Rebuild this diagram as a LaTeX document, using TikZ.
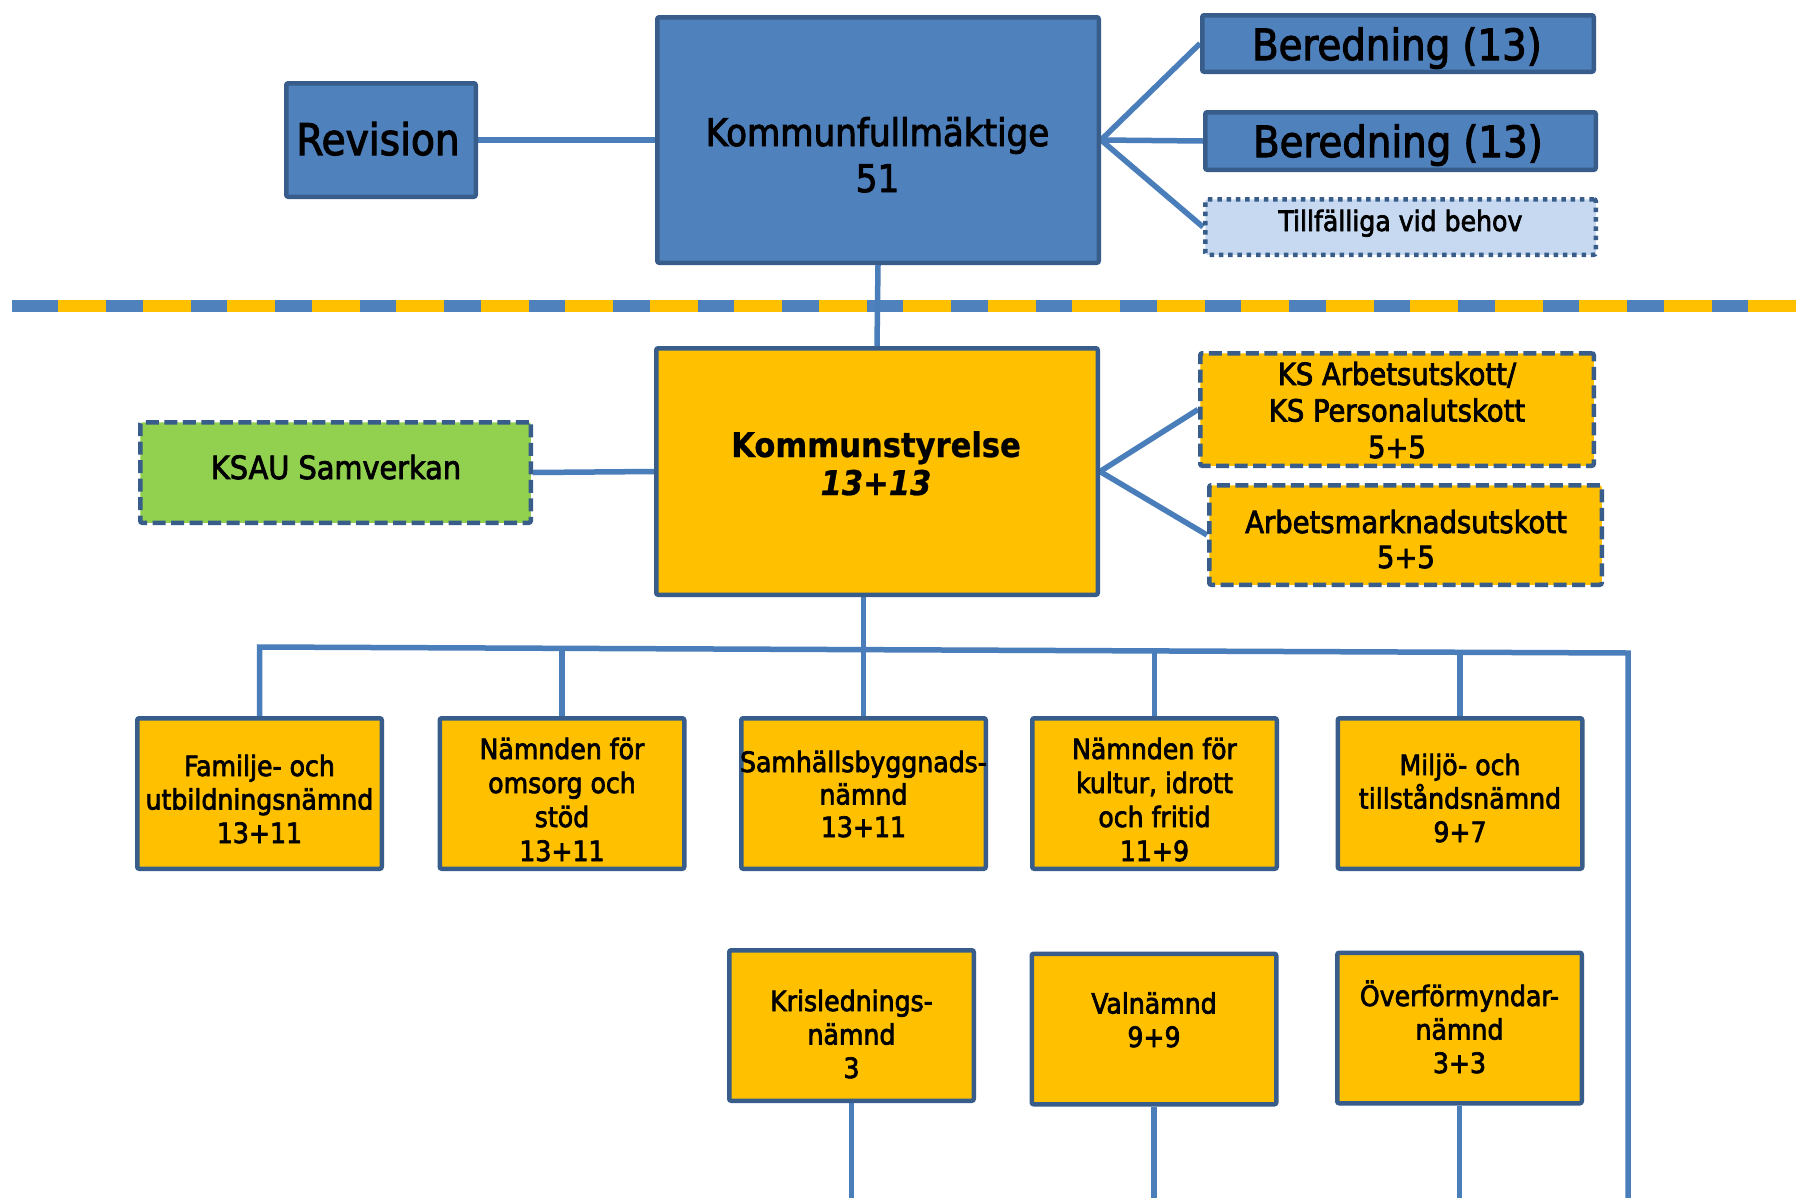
\documentclass[tikz,border=0pt]{standalone}
\usepackage{fontspec}
\setmainfont{DejaVuSansCondensed}[Extension=.ttf, FakeBold=2.5, BoldFont=*-Bold, BoldFeatures={FakeBold=0.8}, ItalicFont=*-Oblique, BoldItalicFont=*-BoldOblique, BoldItalicFeatures={FakeBold=0.8}]
\usetikzlibrary{backgrounds}
\definecolor{boxblue}{HTML}{4F81BD}
\definecolor{edgeblue}{HTML}{385D8A}
\definecolor{lineblue}{HTML}{4A7EBB}
\definecolor{gold}{HTML}{FFC000}
\definecolor{leaf}{HTML}{92D050}
\definecolor{pale}{HTML}{C6D9F1}
\tikzset{
  box/.style={rectangle, draw=edgeblue, line width=4.5pt, rounded corners=2pt, inner sep=0pt},
  bluebox/.style={box, fill=boxblue},
  goldbox/.style={box, fill=gold},
  dashbox/.style={dash pattern=on 13pt off 5.5pt},
  dotbox/.style={dash pattern=on 4.5pt off 4.8pt},
  smallbox/.style={goldbox, minimum width=244.5pt, minimum height=150.5pt},
  link/.style={draw=lineblue, line width=5.5pt},
  txt/.style={anchor=base, align=center, inner sep=0pt, text=black},
  fbig/.style={font=\fontsize{43}{46}\selectfont},
  fsmall/.style={font=\fontsize{28}{33.5}\selectfont},
  fmid/.style={font=\fontsize{30.5}{36.5}\selectfont},
}
\begin{document}
\begin{tikzpicture}[x=1pt,y=-1pt]
\useasboundingbox (0,0) rectangle (1796,1197);
% boxes
\node[bluebox, minimum width=189.5pt, minimum height=113.5pt] (rev) at (381,140) {};
\node[bluebox, minimum width=441.5pt, minimum height=245.5pt] (kf) at (878,140) {};
\node[bluebox, minimum width=391.5pt, minimum height=56.5pt] (b1) at (1398,43.5) {};
\node[bluebox, minimum width=390.5pt, minimum height=57.5pt] (b2) at (1400.5,141) {};
\node[box, dotbox, fill=pale, minimum width=390.5pt, minimum height=55.5pt] (tf) at (1400.5,227) {};
\node[box, dashbox, fill=leaf, minimum width=390.5pt, minimum height=100.5pt] (ksau) at (335.5,472.5) {};
\node[goldbox, minimum width=441.5pt, minimum height=246.5pt] (ks) at (877,471.5) {};
\node[goldbox, dashbox, minimum width=393.5pt, minimum height=112.5pt] (ksa) at (1397,409.5) {};
\node[goldbox, dashbox, minimum width=392.5pt, minimum height=99.5pt] (arb) at (1405.5,535) {};
\node[smallbox] (fam) at (259.5,793.5) {};
\node[smallbox] (oms) at (562,793.5) {};
\node[smallbox] (sam) at (863.5,793.5) {};
\node[smallbox] (kul) at (1154.5,793.5) {};
\node[smallbox] (mil) at (1460,793.5) {};
\node[smallbox] (kri) at (851.5,1025.5) {};
\node[smallbox] (val) at (1154,1029) {};
\node[smallbox] (ovf) at (1459.5,1028) {};
% texts (base = baseline of the last line)
\node[txt, font=\fontsize{43.5}{46}\selectfont] (revt) at (378,155) {Revision};
\node[txt, font=\fontsize{38}{46}\selectfont] (kft) at (877.5,192) {Kommunfullmäktige\\51};
\node[txt, fbig] (b1t) at (1397,60) {Beredning (13)};
\node[txt, fbig] (b2t) at (1398,157) {Beredning (13)};
\node[txt, font=\fontsize{28}{32}\selectfont] (tft) at (1400.5,231) {Tillfälliga vid behov};
\node[txt, font=\fontsize{32}{36}\selectfont] (ksaut) at (336,479) {KSAU Samverkan};
\node[txt, font=\fontsize{34}{38}\selectfont\bfseries] (kst) at (876,495) {Kommunstyrelse\\\textit{13+13}};
\node[txt, fmid] (ksat) at (1397,458) {KS Arbetsutskott/\\KS Personalutskott\\5+5};
\node[txt, font=\fontsize{30.5}{35}\selectfont] (arbt) at (1406,568) {Arbetsmarknadsutskott\\5+5};
\node[txt, fsmall] (famt) at (259.5,843) {Familje- och\\utbildningsnämnd\\13+11};
\node[txt, font=\fontsize{28}{34}\selectfont] (omst) at (562,861) {Nämnden för\\omsorg och\\stöd\\13+11};
\node[txt, font=\fontsize{28}{32.5}\selectfont] (samt) at (863.5,837) {Samhällsbyggnads-\\nämnd\\13+11};
\node[txt, font=\fontsize{28}{34}\selectfont] (kult) at (1154.5,861) {Nämnden för\\kultur, idrott\\och fritid\\11+9};
\node[txt, fsmall] (milt) at (1460,842) {Miljö- och\\tillståndsnämnd\\9+7};
\node[txt, fsmall] (krit) at (851.5,1078) {Krislednings-\\nämnd\\3};
\node[txt, fsmall] (valt) at (1154,1047) {Valnämnd\\9+9};
\node[txt, fsmall] (ovft) at (1459.5,1073) {Överförmyndar-\\nämnd\\3+3};
% free ends
\coordinate (busL) at (259.5,647);
\coordinate (busR) at (1628,653);
\coordinate (bot) at (0,1200);
\begin{pgfonlayer}{background}
\fill[white] (0,0) rectangle (1796,1197);
\draw[boxblue, line width=12pt] (12,306) -- (1796,306);
\draw[gold, line width=12pt, dash pattern=on 48pt off 36.5pt] (58,306) -- (1796,306);
\draw[link] (rev.east) -- (kf.west);
\draw[link] (kf.east) -- (b1.west);
\draw[link] (kf.east) -- (b2.west);
\draw[link] (kf.east) -- (tf.west);
\draw[link] (kf.south) -- (ks.north);
\draw[link] (ksau.east) -- (ks.west);
\draw[link] (ks.east) -- (ksa.west);
\draw[link] (ks.east) -- (arb.west);
\draw[link] (sam.north) -- (sam.north |- ks.south);
\draw[link] (fam.north) -- (busL) -- (busR) -- (busR |- bot);
\draw[link] (oms.north) -- (oms.north |- busL);
\draw[link] (kul.north) -- ++(0,-66);
\draw[link] (mil.north) -- ++(0,-66);
\draw[link] (kri.south) -- (kri.south |- bot);
\draw[link] (val.south) -- (val.south |- bot);
\draw[link] (ovf.south) -- (ovf.south |- bot);
\end{pgfonlayer}
\end{tikzpicture}
\end{document}
